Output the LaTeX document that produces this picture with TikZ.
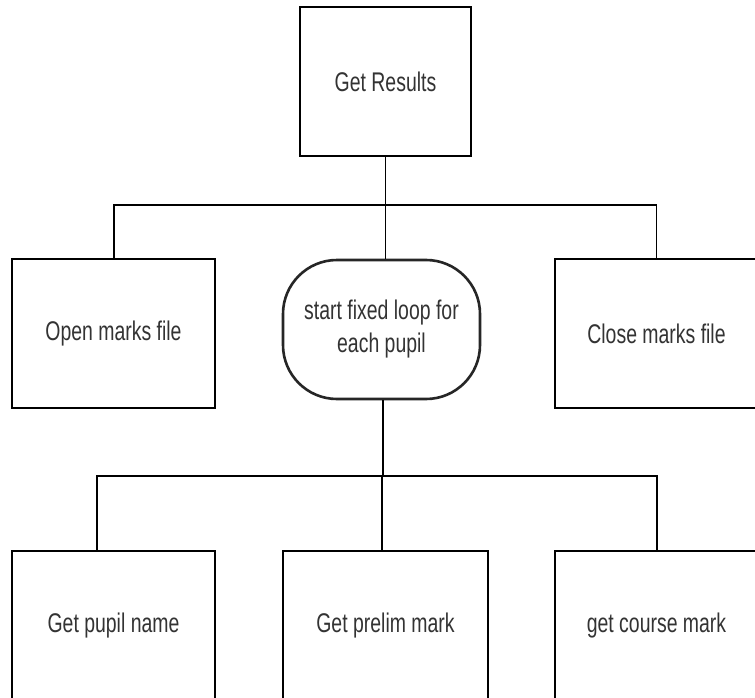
\documentclass[tikz,border=0pt]{standalone}
\usepackage{fontspec}
\setmainfont{Liberation Sans}[FakeStretch=0.72]
\begin{document}
\begin{tikzpicture}[x=1pt,y=-1pt,
  font=\fontsize{27}{33}\selectfont,
  box/.style={draw=black,line width=1.6pt,fill=white,minimum width=203pt,minimum height=149pt,inner sep=0pt,align=center,text=black!80},
  loopbox/.style={draw=black!85,line width=2.6pt,fill=white,rounded corners=54pt,minimum width=197pt,minimum height=139pt,inner sep=0pt,align=center,text=black!80},
  link/.style={draw=black,line width=1.4pt}]
\useasboundingbox (0,0) rectangle (755,698);
\fill[white] (0,0) rectangle (755,698);

% root
\node[box,minimum width=171pt] (root) at (385.5,81.5) {Get Results};

% first level
\node[box] (open) at (113.5,333.5) {Open marks file};
\node[loopbox] (loop) at (381.5,329.5) {start fixed loop for\\each pupil};
\node[box] (close) at (656.5,333.5) {Close marks file};

% second level
\node[box] (name) at (113.5,625.5) {Get pupil name};
\node[box,minimum width=205pt] (prelim) at (385.5,625.5) {Get prelim mark};
\node[box] (course) at (656.5,625.5) {get course mark};

% bus lines
\coordinate (busA) at (root.south |- 0,205);
\coordinate (busB) at (383,476);

\draw[link] (root.south) -- (busA);
\draw[link] (busA) -| ([xshift=0.5pt]open.north);
\draw[link] (busA) -| (close.north);
\draw[link] (busA) -- (busA |- loop.north);

\draw[link] (busB |- loop.south) -- (busB);
\draw[link] (busB) -| ([xshift=-16.5pt]name.north);
\draw[link] (busB) -| ([xshift=-3.5pt]prelim.north);
\draw[link] (busB) -| ([xshift=0.5pt]course.north);
\end{tikzpicture}
\end{document}
